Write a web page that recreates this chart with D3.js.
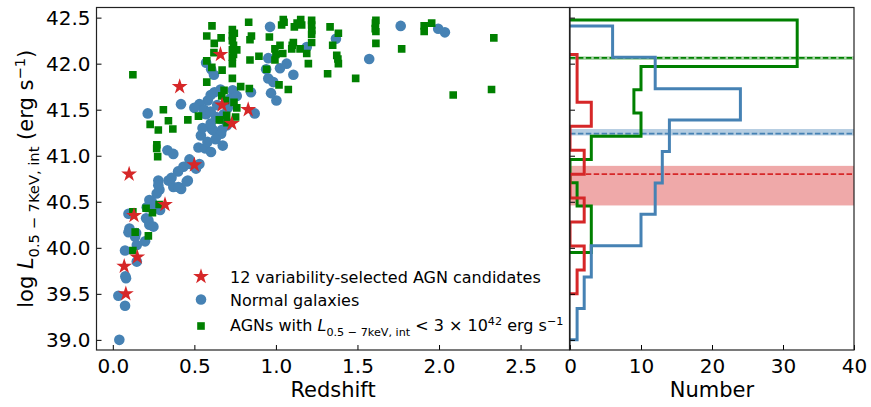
<!DOCTYPE html>
<html><head><meta charset="utf-8">
<script src="https://cdn.jsdelivr.net/npm/d3@7"></script>
<style>
body{margin:0;background:#fff}
svg{display:block}
text{font-family:"DejaVu Sans",sans-serif;fill:#000}
</style>
</head><body>
<svg id="c" width="871" height="407"></svg>
<script>
// ---------- data ----------
const xTicksLeft = [0, 0.5, 1.0, 1.5, 2.0, 2.5];
const yTicks = [39.0, 39.5, 40.0, 40.5, 41.0, 41.5, 42.0, 42.5];
const xTicksRight = [0, 10, 20, 30, 40];

// 12 variability-selected AGN candidates [redshift, logL]
const candidates = [
  [0.07,39.80],[0.10,40.80],[0.13,40.35],[0.15,39.90],[0.08,39.50],[0.32,40.47],
  [0.50,40.90],[0.41,41.75],[0.66,42.10],[0.67,41.55],[0.73,41.35],[0.83,41.50]
];

// Normal galaxies [redshift, logL]
const galaxies = [
  [0.964,42.40],[1.765,42.41],[1.995,42.38],[2.036,42.34],[1.368,42.27],[1.189,42.18],
  [1.572,42.05],[0.953,42.06],[1.066,42.00],[1.025,41.95],[1.107,41.88],[0.953,41.84],
  [0.984,41.80],[1.003,41.60],[0.940,41.94],
  [0.572,42.01],[0.603,41.94],[0.623,41.69],[0.582,41.60],[0.735,41.71],[0.847,41.69],
  [0.418,41.56],[0.214,41.46],[0.531,41.56],[0.555,41.46],[0.572,41.45],[0.633,41.42],
  [0.657,41.40],[0.705,41.52],[0.870,41.46],
  [0.607,41.29],[0.668,41.28],[0.613,41.28],[0.664,41.24],[0.540,41.22],
  [0.525,41.09],[0.565,41.08],[0.602,41.04],[0.674,41.11],[0.335,41.06],[0.371,41.02],
  [0.433,40.88],[0.474,40.91],[0.531,40.91],
  [0.279,40.73],[0.341,40.73],[0.371,40.66],[0.419,40.64],[0.460,40.73],[0.286,40.63],
  [0.224,40.52],[0.255,40.44],[0.204,40.32],[0.224,40.25],[0.102,40.21],
  [0.279,40.68],[0.402,40.66],[0.453,40.72],[0.269,40.59],[0.239,40.50],[0.208,40.44],
  [0.290,40.41],[0.096,40.37],[0.218,40.30],[0.249,40.23],[0.096,40.17],[0.143,40.16],
  [0.137,40.12],[0.198,40.07],[0.147,40.03],[0.075,39.97],[0.147,39.85],[0.081,39.67],
  [0.077,39.69],[0.034,39.48],[0.075,39.37],[0.040,39.00],
  [0.400,40.83],[0.470,40.96],[0.510,40.86],[0.360,40.76],
  [0.580,41.15],[0.630,41.18],[0.550,41.30],[0.700,41.33],[0.600,41.35],
  [0.560,41.50],[0.600,41.48],[0.640,41.55],[0.680,41.45],[0.720,41.62],[0.600,41.66],
  [0.660,41.72],[0.500,41.52],[0.760,41.65],[0.970,41.68],[0.620,41.88]
];

// AGNs with L < 3e42 [redshift, logL]
const agns = [
  [0.608,42.41],[0.576,42.30],[0.622,42.22],[0.664,42.28],
  [0.733,42.37],[0.733,42.30],[0.733,42.25],[0.733,42.15],[0.733,42.07],[0.733,42.00],
  [0.760,42.15],[0.745,42.33],[0.740,42.10],
  [0.833,42.45],[0.841,42.26],[0.841,42.04],[0.576,42.03],
  [0.896,42.08],[0.960,42.29],[0.994,42.04],[1.025,42.20],[1.042,42.11],[0.994,42.16],
  [1.045,42.48],[1.035,42.42],[1.113,42.40],[1.152,42.48],[1.158,42.42],[1.219,42.47],
  [1.219,42.42],[1.219,42.32],[1.219,42.23],[1.107,42.23],[1.097,42.16],[1.148,42.16],
  [1.189,42.11],[1.199,42.00],
  [1.332,42.40],[1.383,42.33],[1.348,42.20],[1.373,42.09],[1.383,42.00],
  [1.613,42.47],[1.609,42.38],[1.613,42.35],[1.613,42.22],[1.771,42.16],[1.909,42.41],
  [1.909,42.35],[1.955,42.44],[2.336,42.28],
  [1.050,42.45],[1.130,42.44],[1.220,42.36],[0.740,42.20],[0.620,42.12],[1.000,42.10],
  [1.100,42.20],[1.380,42.05],[1.610,42.44],[0.850,42.30],
  [0.123,41.88],[0.670,41.93],[0.733,41.84],[0.576,41.80],[0.784,41.75],[0.837,41.73],
  [0.943,41.94],[1.019,41.77],[1.317,41.89],[1.489,41.84],[0.607,41.96],
  [0.310,41.50],[0.682,41.71],[0.668,41.65],[0.743,41.58],[1.076,41.72],[2.087,41.66],
  [2.322,41.72],[0.690,41.60],[0.760,41.52],
  [0.229,41.34],[0.279,41.28],[0.341,41.38],[0.368,41.29],[0.460,41.39],[0.525,41.43],
  [0.653,41.39],[0.698,41.44],[0.753,41.42],[0.700,41.36],
  [0.269,41.08],[0.275,40.99],[0.270,41.12],
  [0.123,40.39],[0.204,40.43],[0.243,40.38],[0.284,40.47],[0.137,40.17],[0.218,40.13],
  [0.123,39.97]
];

// Histograms (horizontal, 10 equal bins over [lo, hi]); counts from bottom to top
const candRange = [39.50, 42.10];
const candCounts = [1, 2, 0, 2, 0, 2, 0, 3, 1, 1];
const galRange = [39.00, 42.41];
const galCounts = [1, 2, 3, 10, 12, 13, 14, 24, 12, 6];
const agnRange = [39.95, 42.475];
const agnCounts = [3, 3, 1, 0, 3, 10, 9, 10, 32, 32];

// medians and uncertainty bands
const candMedian = 40.80, candBand = [40.46, 40.89];
const galMedian = 41.24, galBand = [41.22, 41.29];
const agnMedian = 42.063, agnBand = [42.04, 42.08];

// ---------- drawing ----------
const RED = "#d62728", BLUE = "#4682b4", GREEN = "#008000";
const svg = d3.select("#c");
const L = {x0: 96.5, x1: 569.5, y0: 7.5, y1: 350};
const R = {x0: 570, x1: 854};

const x = d3.scaleLinear().domain([-0.1, 2.8]).range([L.x0, L.x1]);
const y = d3.scaleLinear().domain([38.89, 42.61]).range([L.y1, L.y0]);
const xr = d3.scaleLinear().domain([0, 40]).range([R.x0, R.x1]);

const defs = svg.append("defs");
defs.append("clipPath").attr("id","clipL").append("rect")
  .attr("x",L.x0).attr("y",L.y0).attr("width",L.x1-L.x0).attr("height",L.y1-L.y0);
defs.append("clipPath").attr("id","clipR").append("rect")
  .attr("x",R.x0).attr("y",L.y0).attr("width",R.x1-R.x0).attr("height",L.y1-L.y0);

// ---- left scatter ----
const gL = svg.append("g").attr("clip-path","url(#clipL)");
gL.selectAll("circle.gal").data(galaxies).join("circle")
  .attr("cx",d=>x(d[0])).attr("cy",d=>y(d[1])).attr("r",5.3).attr("fill",BLUE);
const sq = d3.symbol().type(d3.symbolSquare).size(58);
gL.selectAll("path.agn").data(agns).join("path")
  .attr("transform",d=>`translate(${x(d[0])},${y(d[1])})`).attr("d",sq()).attr("fill",GREEN);
const star = d3.symbol().type(d3.symbolStar).size(78);
gL.selectAll("path.cand").data(candidates).join("path")
  .attr("transform",d=>`translate(${x(d[0])},${y(d[1])})`).attr("d",star()).attr("fill",RED);

// ---- right histograms ----
const gR = svg.append("g").attr("clip-path","url(#clipR)");
const bands = [[candBand,RED,0.4],[galBand,BLUE,0.4],[agnBand,GREEN,0.33]];
bands.forEach(([b,c,a])=>{
  gR.append("rect").attr("x",R.x0).attr("width",R.x1-R.x0)
    .attr("y",y(b[1])).attr("height",y(b[0])-y(b[1])).attr("fill",c).attr("fill-opacity",a);
});
[[candMedian,RED],[galMedian,BLUE],[agnMedian,GREEN]].forEach(([m,c])=>{
  gR.append("line").attr("x1",R.x0).attr("x2",R.x1).attr("y1",y(m)).attr("y2",y(m))
    .attr("stroke",c).attr("stroke-width",1.6).attr("stroke-dasharray","5.5,2.4");
});
function stepPts(range, counts){
  const n = counts.length, w = (range[1]-range[0])/n;
  const pts = [[0, range[0]]];
  counts.forEach((c,i)=>{ pts.push([c, range[0]+i*w]); pts.push([c, range[0]+(i+1)*w]); });
  pts.push([0, range[1]]);
  return pts;
}
const line = d3.line().x(d=>xr(d[0])).y(d=>y(d[1]));
[[agnRange,agnCounts,GREEN],[galRange,galCounts,BLUE],[candRange,candCounts,RED]].forEach(([r,c,col])=>{
  gR.append("path").attr("d",line(stepPts(r,c))).attr("fill","none")
    .attr("stroke",col).attr("stroke-width",3).attr("stroke-linejoin","miter");
});

// ---- axes ----
const fs = 20;
function styleAxis(g){
  g.select(".domain").remove();
  g.selectAll(".tick line").attr("stroke","#000").attr("stroke-width",1);
  g.selectAll(".tick text").attr("font-size",fs).attr("font-family","DejaVu Sans").attr("fill","#000");
}
svg.append("g").attr("transform",`translate(0,${L.y1})`)
  .call(d3.axisBottom(x).tickValues(xTicksLeft).tickSize(-5).tickPadding(9).tickFormat(d3.format(".1f")))
  .call(styleAxis);
svg.append("g").attr("transform",`translate(${L.x0},0)`)
  .call(d3.axisLeft(y).tickValues(yTicks).tickSize(-5).tickPadding(6).tickFormat(d3.format(".1f")))
  .call(styleAxis);
svg.append("g").attr("transform",`translate(0,${L.y1})`)
  .call(d3.axisBottom(xr).tickValues(xTicksRight).tickSize(-5).tickPadding(9).tickFormat(d3.format("d")))
  .call(styleAxis);
svg.append("g").attr("transform",`translate(${R.x0},0)`)
  .call(d3.axisLeft(y).tickValues(yTicks).tickSize(-5).tickFormat(""))
  .call(styleAxis);

// frames
svg.append("rect").attr("x",L.x0).attr("y",L.y0).attr("width",L.x1-L.x0).attr("height",L.y1-L.y0)
  .attr("fill","none").attr("stroke","#222").attr("stroke-width",1.2);
svg.append("rect").attr("x",R.x0).attr("y",L.y0).attr("width",R.x1-R.x0).attr("height",L.y1-L.y0)
  .attr("fill","none").attr("stroke","#222").attr("stroke-width",1.2);

// rich text helper: parts [text, kind] kind: "", "it", "sub", "sup"
function rich(sel, parts, size){
  let shift = 0;
  parts.forEach(([t,k])=>{
    const ts = sel.append("tspan").text(t);
    let target = 0, s = size;
    if(k==="sub"){ target = size*0.30; s = size*0.70; }
    else if(k==="sup"){ target = -size*0.40; s = size*0.70; }
    if(k==="it") ts.attr("font-style","italic");
    ts.attr("font-size",s);
    if(target!==shift){ ts.attr("dy",target-shift); shift = target; }
  });
}

// axis labels
svg.append("text").attr("x",(L.x0+L.x1)/2).attr("y",397).attr("text-anchor","middle")
  .attr("font-size",21).text("Redshift");
svg.append("text").attr("x",(R.x0+R.x1)/2).attr("y",397).attr("text-anchor","middle")
  .attr("font-size",21).text("Number");
const yl = svg.append("text").attr("text-anchor","middle")
  .attr("transform",`translate(33,${(L.y0+L.y1)/2}) rotate(-90)`).attr("font-size",21);
rich(yl, [["log ",""],["L","it"],["0.5 − 7KeV, int","sub"],[" (erg s",""],["−1","sup"],[")",""]], 21);

// legend
const lg = svg.append("g");
const lx = 201, tx = 230, rows = [276.5, 299.5, 326];
lg.append("path").attr("transform",`translate(${lx},${rows[0]})`).attr("d",star()).attr("fill",RED);
lg.append("circle").attr("cx",lx).attr("cy",rows[1]).attr("r",5.3).attr("fill",BLUE);
lg.append("path").attr("transform",`translate(${lx},${rows[2]})`).attr("d",sq()).attr("fill",GREEN);
lg.append("text").attr("x",tx).attr("y",rows[0]+6).attr("font-size",16).text("12 variability-selected AGN candidates");
lg.append("text").attr("x",tx).attr("y",rows[1]+6).attr("font-size",16).text("Normal galaxies");
const t3 = lg.append("text").attr("x",tx).attr("y",rows[2]+5);
rich(t3, [["AGNs with ",""],["L","it"],["0.5 − 7keV, int","sub"],[" < 3 × 10",""],["42","sup"],[" erg s",""],["−1","sup"]], 16);
</script>
</body></html>
